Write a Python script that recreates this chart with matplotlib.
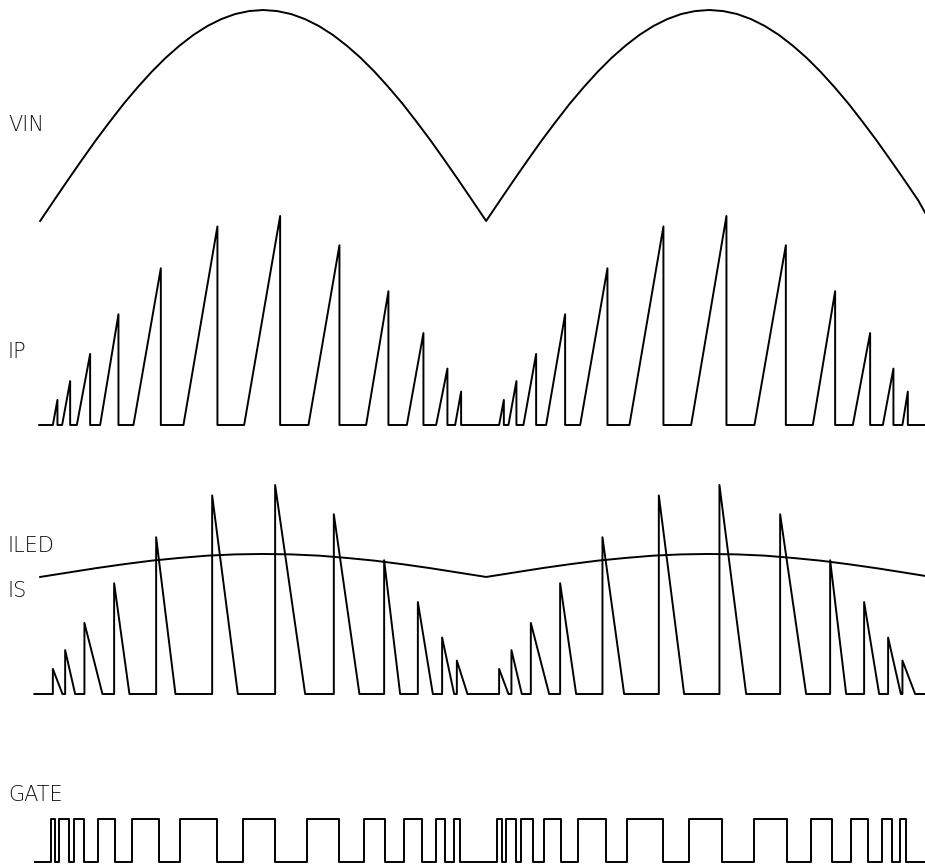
import numpy as np
import matplotlib
matplotlib.use('Agg')
import matplotlib.pyplot as plt

# time in ms, two half cycles of the mains (10 ms each)
t_start, t_end = -0.9, 19.84

# VIN, normalised, sampled every 0.3125 ms
vin_t = np.arange(0, 19.84, 0.3125).tolist() + [19.84]
vin_half = [0.000, 0.098, 0.195, 0.290, 0.383, 0.471, 0.556, 0.634, 0.707, 0.773, 0.831, 0.882, 0.924,
            0.957, 0.981, 0.995, 1.000, 0.995, 0.981, 0.957, 0.924, 0.882, 0.831, 0.773, 0.707, 0.634,
            0.556, 0.471, 0.383, 0.290, 0.195, 0.098]
vin_v = vin_half + vin_half + [0.040]

# ILED (in IS units), sampled every 0.625 ms
iled_t = np.arange(0, 19.84, 0.625).tolist() + [19.84]
iled_half = [0.560, 0.581, 0.602, 0.621, 0.638, 0.651, 0.662, 0.668, 0.670,
             0.668, 0.662, 0.651, 0.638, 0.621, 0.602, 0.581]
iled_v = iled_half + iled_half + [0.565]

# peak current of each switching cycle (normalised)
peaks = [0.12, 0.21, 0.34, 0.53, 0.75, 0.95, 1.00, 0.86, 0.64, 0.44, 0.27, 0.16,
         0.12, 0.21, 0.34, 0.53, 0.75, 0.95, 1.00, 0.86, 0.64, 0.44, 0.27, 0.16]

# primary current: ramp start / peak time
ip_rise = [0.285, 0.493, 0.823, 1.345, 2.092, 3.213, 4.574, 6.016, 7.309, 8.222, 8.879, 9.305,
           10.291, 10.500, 10.836, 11.345, 12.108, 13.213, 14.596, 16.016, 17.325, 18.222, 18.895, 19.334]
ip_peak = [0.388, 0.673, 1.121, 1.756, 2.706, 3.975, 5.381, 6.711, 7.809, 8.594, 9.132, 9.439,
           10.397, 10.679, 11.121, 11.771, 12.720, 13.975, 15.388, 16.720, 17.825, 18.610, 19.132, 19.455]

# secondary current: step time / end of ramp down
is_rise = [0.285, 0.561, 0.993, 1.659, 2.601, 3.857, 5.269, 6.585, 7.713, 8.469, 9.013, 9.343,
           10.291, 10.567, 11.002, 11.659, 12.608, 13.872, 15.231, 16.592, 17.713, 18.475, 19.013, 19.334]
is_fall = [0.500, 0.785, 1.397, 2.002, 3.034, 4.433, 5.942, 7.159, 8.072, 8.805, 9.283, 9.581,
           10.500, 10.800, 11.413, 12.018, 13.094, 14.439, 15.830, 17.175, 18.072, 18.812, 19.298, 19.619]

# gate drive on / off times
gate_on = [0.240, 0.433, 0.769, 1.294, 2.056, 3.139, 4.558, 5.980, 7.271, 8.168, 8.872, 9.283,
           10.240, 10.442, 10.785, 11.307, 12.056, 13.155, 14.552, 16.009, 17.280, 18.184, 18.886, 19.283]
gate_off = [0.330, 0.650, 0.993, 1.682, 2.675, 3.962, 5.269, 6.711, 7.735, 8.558, 9.081, 9.417,
            10.352, 10.666, 11.047, 11.675, 12.691, 13.975, 15.298, 16.742, 17.751, 18.572, 19.110, 19.410]

W, H = 925, 867
LW = 1.4


def trace_axes(fig, y_zero, y_one):
    # axes whose y=0 sits at pixel row y_zero and y=1 at y_one
    ax = fig.add_axes([0, 1 - y_zero / H, 1, (y_zero - y_one) / H])
    ax.set_xlim(t_start, t_end)
    ax.set_ylim(0, 1)
    ax.axis('off')
    return ax


def ip_wave(t0, t1):
    x, y = [t0], [0]
    for r, p, h in zip(ip_rise, ip_peak, peaks):
        x += [r, p, p]
        y += [0, h, 0]
    x.append(t1)
    y.append(0)
    return x, y


def is_wave(t0, t1):
    x, y = [t0], [0]
    for r, f, h in zip(is_rise, is_fall, peaks):
        x += [r, r, f]
        y += [0, h, 0]
    x.append(t1)
    y.append(0)
    return x, y


def gate_wave(t0, t1):
    x, y = [t0], [0]
    for a, b in zip(gate_on, gate_off):
        x += [a, a, b, b]
        y += [0, 1, 1, 0]
    x.append(t1)
    y.append(0)
    return x, y


def main():
    fig = plt.figure(figsize=(W / 100, H / 100), dpi=100)

    ax_vin = trace_axes(fig, 221, 10)
    ax_vin.plot(vin_t, vin_v, color='black', lw=LW, clip_on=False)

    ax_ip = trace_axes(fig, 425, 216)
    ax_ip.plot(*ip_wave(-0.02, t_end), color='black', lw=LW, clip_on=False)

    ax_is = trace_axes(fig, 694, 485)
    ax_is.plot(*is_wave(-0.13, t_end), color='black', lw=LW, clip_on=False)
    ax_is.plot(iled_t, iled_v, color='black', lw=LW, clip_on=False)

    ax_gate = trace_axes(fig, 862, 819)
    ax_gate.plot(*gate_wave(-0.11, t_end), color='black', lw=LW, clip_on=False)

    font = dict(fontsize=15, family=['DejaVu Sans'], weight='light', color='#111111',
                va='center', ha='left')
    for label, ypx in [('VIN', 125), ('IP', 352), ('ILED', 546), ('IS', 591), ('GATE', 795)]:
        fig.text(8 / W, 1 - ypx / H, label, **font)

    fig.savefig('out.png', dpi=100)


if __name__ == '__main__':
    main()
